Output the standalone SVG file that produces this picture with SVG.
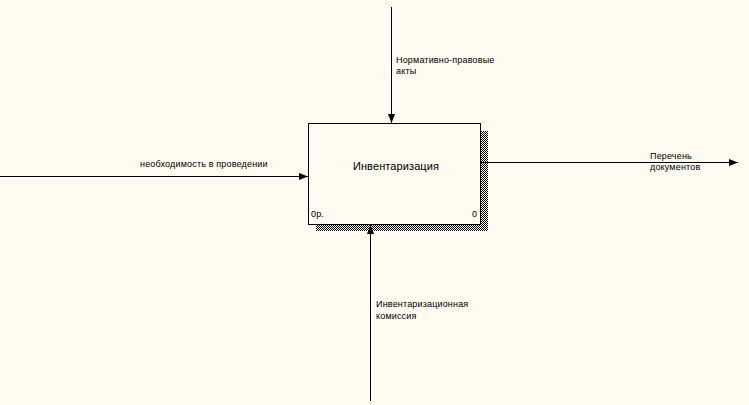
<svg xmlns="http://www.w3.org/2000/svg" width="749" height="405" viewBox="0 0 749 405">
<style>
.t{font-family:"Liberation Sans",Arial,sans-serif;font-size:9px;letter-spacing:0.17px;fill:#000}
.c{stroke:#000;stroke-width:1;fill:none}
</style>
<defs>
<pattern id="h" width="2" height="2" patternUnits="userSpaceOnUse">
<rect width="2" height="2" fill="#fffbf0"/>
<rect width="1" height="1" fill="#000"/>
<rect x="1" y="1" width="1" height="1" fill="#000"/>
</pattern>
<marker id="a" markerWidth="10" markerHeight="8" refX="9" refY="4" orient="auto" markerUnits="userSpaceOnUse">
<path d="M0,0.5 L9,4 L0,7.5 Z" fill="#000"/>
</marker>
</defs>
<rect width="749" height="405" fill="#fffbf0"/>
<g id="node-a0">
<rect x="481" y="131" width="7" height="100" fill="url(#h)"/>
<rect x="316" y="225" width="172" height="6" fill="url(#h)"/>
<rect x="308.5" y="123.5" width="172" height="101" fill="#fffbf0" stroke="#000"/>
<text x="396" y="170" text-anchor="middle" style="font-family:'Liberation Sans',Arial,sans-serif;font-size:11px;letter-spacing:0.1px">Инвентаризация</text>
<text class="t" x="311" y="217">0р.</text>
<text class="t" x="472" y="217">0</text>
</g>
<g id="connectors">
<line class="c" x1="391.5" y1="7" x2="391.5" y2="123" marker-end="url(#a)"/>
<line class="c" x1="0" y1="176.5" x2="308" y2="176.5" marker-end="url(#a)"/>
<line class="c" x1="481" y1="162.5" x2="738" y2="162.5" marker-end="url(#a)"/>
<line class="c" x1="370.5" y1="401" x2="370.5" y2="225" marker-end="url(#a)"/>
<text class="t" x="396" y="63">Нормативно-правовые</text>
<text class="t" x="396" y="74">акты</text>
<text class="t" x="140" y="167">необходимость в проведении</text>
<text class="t" x="650" y="159">Перечень</text>
<text class="t" x="650" y="170">документов</text>
<text class="t" x="376" y="307">Инвентаризационная</text>
<text class="t" x="376" y="319">комиссия</text>
</g>
</svg>
